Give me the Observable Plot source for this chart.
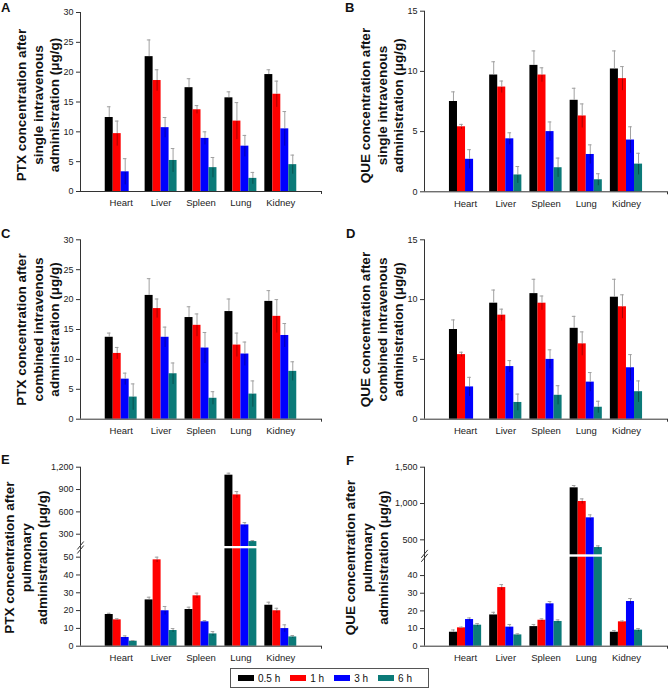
<!DOCTYPE html>
<html><head><meta charset="utf-8">
<script src="https://cdn.jsdelivr.net/npm/d3@7"></script>
<script src="https://cdn.jsdelivr.net/npm/@observablehq/plot@0.6"></script>
<style>
body{margin:0;background:#fff;}
#fig{position:relative;width:668px;height:688px;font-family:"Liberation Sans",Arial,sans-serif;color:#111;overflow:hidden;}
.panel{position:absolute;}
.letter{position:absolute;font-weight:bold;font-size:13px;line-height:15px;}
#legend{position:absolute;left:230px;top:668px;width:190px;height:18px;border:1px solid #555;box-sizing:content-box;display:flex;align-items:center;padding-left:7px;font-size:10px;}
#legend .item{display:flex;align-items:center;margin-right:10px;}
#legend .sw{width:16px;height:6px;margin-right:4px;}
</style></head><body><div id="fig"></div>
<script>
const organs = ["Heart", "Liver", "Spleen", "Lung", "Kidney"];
const times = ["0.5 h", "1 h", "3 h", "6 h"];
const colors = ["#000000", "#ff0000", "#0000ff", "#0b7a78"];

// A: PTX after single intravenous administration (μg/g)
const ptxSingle   = [[12.4, 9.7, 3.3, 0], [22.6, 18.6, 10.7, 5.2], [17.4, 13.7, 8.9, 4.0], [15.7, 11.8, 7.6, 2.2], [19.6, 16.3, 10.5, 4.5]];
const ptxSingleSD = [[1.8, 2.1, 2.2, 0], [2.8, 1.8, 1.7, 2.0], [1.5, 0.7, 1.1, 1.7], [1.0, 3.1, 1.8, 1.0], [0.8, 2.2, 2.9, 1.6]];
// B: QUE after single intravenous administration
const queSingle   = [[7.5, 5.4, 2.7, 0], [9.7, 8.7, 4.4, 1.4], [10.5, 9.7, 5.0, 2.0], [7.6, 6.3, 3.1, 1.0], [10.2, 9.4, 4.3, 2.3]];
const queSingleSD = [[0.8, 0.2, 0.8, 0], [1.1, 0.5, 0.5, 0.7], [1.2, 0.6, 0.8, 0.8], [1.0, 1.0, 0.8, 0.5], [1.5, 1.0, 1.1, 0.9]];
// C: PTX after combined intravenous administration
const ptxCombined   = [[13.7, 11.0, 6.7, 3.7], [20.7, 18.5, 13.7, 7.6], [17.0, 15.7, 11.9, 3.5], [18.0, 12.4, 10.9, 4.2], [19.7, 17.2, 14.0, 8.0]];
const ptxCombinedSD = [[0.7, 1.0, 1.0, 2.2], [2.8, 1.6, 1.7, 1.8], [1.8, 1.9, 2.6, 1.1], [2.1, 2.0, 2.0, 2.2], [1.8, 2.8, 2.0, 1.6]];
// D: QUE after combined intravenous administration
const queCombined   = [[7.5, 5.4, 2.7, 0], [9.7, 8.7, 4.4, 1.4], [10.5, 9.7, 5.0, 2.0], [7.6, 6.3, 3.1, 1.0], [10.2, 9.4, 4.3, 2.3]];
const queCombinedSD = [[0.8, 0.2, 0.8, 0], [1.1, 0.5, 0.5, 0.7], [1.2, 0.6, 0.8, 0.8], [1.0, 1.0, 0.8, 0.5], [1.5, 1.0, 1.1, 0.9]];
// E: PTX after pulmonary administration
const ptxPulmonary   = [[17.8, 14.8, 4.9, 2.8], [26.0, 48.5, 19.9, 8.8], [20.6, 28.3, 13.7, 6.9], [1093, 828, 425, 201], [23.0, 19.9, 9.9, 5.2]];
const ptxPulmonarySD = [[0.7, 0.6, 0.9, 0.4], [1.5, 1.5, 2.4, 1.1], [1.3, 1.5, 0.7, 1.3], [27, 45, 31, 14], [1.7, 1.4, 2.1, 0.8]];
// F: QUE after pulmonary administration
const quePulmonary   = [[7.9, 10.4, 15.1, 11.9], [17.7, 33.2, 10.8, 6.4], [11.1, 14.7, 24.0, 14.0], [1216, 1028, 803, 394], [7.9, 13.8, 25.3, 9.1]];
const quePulmonarySD = [[1.3, 0.4, 0.9, 0.9], [1.5, 1.7, 1.5, 0.6], [1.2, 0.8, 1.3, 0.9], [32, 36, 41, 23], [1.0, 0.5, 1.7, 0.9]];

const ticks30 = [0, 5, 10, 15, 20, 25, 30];
const ticks15 = [0, 5, 10, 15];
const ticksE = [0, 10, 20, 30, 40, 50, 300, 600, 900, 1200];
const ticksF = [0, 10, 20, 30, 40, 500, 1000, 1500];

const xMin = -1.02, xMax = 5.02;
const FONT = '"Liberation Sans", Arial, sans-serif';

function rows(values, sds) {
  const out = [];
  organs.forEach((o, i) => times.forEach((t, j) => out.push({organ: o, time: t, gi: i, ti: j, v: values[i][j], sd: sds[i][j]})));
  return out.filter(d => d.v > 0);
}

function panel(o) {
  const data = rows(o.values, o.sds);
  const x1 = d => d.gi - 0.4 + 0.2 * d.ti;
  const x2 = d => d.gi - 0.2 + 0.2 * d.ti;
  const xc = d => d.gi - 0.3 + 0.2 * d.ti;
  const yTop = o.yDomain[o.yDomain.length - 1];
  const marks = [
    Plot.rect(data, {x1, x2, y1: 0, y2: "v", fill: "time"}),
  ];
  if (o.brk) marks.push(Plot.rect([o.brk], {x1: xMin + 0.02, x2: xMax, y1: d => d[0], y2: d => d[1], fill: "white"}));
  marks.push(
    Plot.ruleX(data, {x: xc, y1: d => d.v - d.sd, y2: "v", stroke: "#000", strokeOpacity: 0.35}),
    Plot.ruleX(data, {x: xc, y1: "v", y2: d => d.v + d.sd, stroke: "#a0a0a0"}),
    Plot.ruleY(data, {y: d => d.v + d.sd, x1: d => xc(d) - 0.045, x2: d => xc(d) + 0.045, stroke: "#a0a0a0"}),
    Plot.ruleY([0], {x1: xMin, x2: xMax, stroke: "#333"}),
    Plot.ruleX([xMin], {y1: 0, y2: yTop, stroke: "#333"}),
    Plot.ruleX([xMax], {y1: 0, y2: -o.down, stroke: "#333"}),
    Plot.axisY({ticks: o.ticks, tickFormat: o.fmt || (d => d), tickSize: 4, tickPadding: 3, fontSize: 9, label: null, stroke: "#333", fill: "#222"}),
    Plot.axisX({ticks: [0, 1, 2, 3, 4], tickFormat: i => organs[i], tickSize: 0, tickPadding: 8, fontSize: 9.5, label: null, fill: "#222"}),
    Plot.text([o.title], {text: d => d, frameAnchor: "left", rotate: -90, dx: o.dx, dy: o.dy, fontSize: 13.5, fontWeight: "bold", lineAnchor: "middle", textAnchor: "middle", lineHeight: 1.2, fill: "#111"})
  );
  if (o.brk) {
    marks.push(
      Plot.link([0], {x1: xMin - 0.08, x2: xMin + 0.08, y1: o.brk[0] - o.slash, y2: o.brk[1] + o.slashUp, dy: 2, stroke: "#333"}),
      Plot.link([0], {x1: xMin - 0.08, x2: xMin + 0.08, y1: o.brk[0] - o.slash, y2: o.brk[1] + o.slashUp, dy: -2, stroke: "#333"})
    );
  }
  const yOpt = {type: "linear", domain: o.yDomain};
  if (o.yRange) yOpt.range = o.yRange;
  const chart = Plot.plot({
    width: 334, height: o.height,
    marginLeft: o.ml, marginRight: o.mr, marginTop: o.mt, marginBottom: o.mb,
    x: {domain: [xMin, xMax]},
    y: yOpt,
    color: {domain: times, range: colors},
    style: {fontFamily: FONT, fontSize: "9px", background: "transparent", overflow: "visible", color: "#222"},
    marks
  });
  const wrap = document.createElement("div");
  wrap.className = "panel";
  wrap.style.left = o.left + "px";
  wrap.style.top = o.top + "px";
  wrap.appendChild(chart);
  document.getElementById("fig").appendChild(wrap);
}

const t1 = "PTX concentration after\nsingle intravenous\nadministration (μg/g)";
const t2 = "QUE concentration after\nsingle intravenous\nadministration (μg/g)";
const t3 = "PTX concentration after\ncombined intravenous\nadministration (μg/g)";
const t4 = "QUE concentration after\ncombined intravenous\nadministration (μg/g)";
const t5 = "PTX concentration after\npulmonary\nadministration (μg/g)";
const t6 = "QUE concentration after\npulmonary\nadministration (μg/g)";
const comma = d3.format(",");

panel({values: ptxSingle, sds: ptxSingleSD, left: 0, top: 0, height: 215, ml: 80, mr: 13, mt: 12, mb: 24, yDomain: [0, 30], ticks: ticks30, down: 0.5, title: t1, dx: -43, dy: 3});
panel({values: queSingle, sds: queSingleSD, left: 334, top: 0, height: 215, ml: 90, mr: 1, mt: 10.7, mb: 23.7, yDomain: [0, 15], ticks: ticks15, down: 0.25, title: t2, dx: -43, dy: 4});
panel({values: ptxCombined, sds: ptxCombinedSD, left: 0, top: 215, height: 222, ml: 80, mr: 13, mt: 24.3, mb: 18.3, yDomain: [0, 30], ticks: ticks30, down: 0.5, title: t3, dx: -43, dy: 0});
panel({values: queCombined, sds: queCombinedSD, left: 334, top: 215, height: 222, ml: 90, mr: 1, mt: 24.3, mb: 18.3, yDomain: [0, 15], ticks: ticks15, down: 0.25, title: t4, dx: -43, dy: 0});
panel({values: ptxPulmonary, sds: ptxPulmonarySD, left: 0, top: 437, height: 228, ml: 80, mr: 13, mt: 29.7, mb: 19.3,
  yDomain: [0, 54.7, 135, 1200], yRange: [208.7, 111.3, 109, 29.7], ticks: ticksE, fmt: comma, down: 1.7,
  brk: [54.7, 135], slash: 1.5, slashUp: 40, title: t5, dx: -55, dy: 1});
panel({values: quePulmonary, sds: quePulmonarySD, left: 334, top: 437, height: 228, ml: 90, mr: 1, mt: 29.7, mb: 19.3,
  yDomain: [0, 50.4, 294, 1500], yRange: [208.7, 119.7, 117.3, 29.7], ticks: ticksF, fmt: comma, down: 1.7,
  brk: [50.4, 294], slash: 1.5, slashUp: 40, title: t6, dx: -58, dy: 1});

// panel letters
const fig = document.getElementById("fig");
[["A", 1, 0], ["B", 345, 0], ["C", 1, 226], ["D", 346, 226], ["E", 1, 452], ["F", 346, 453]].forEach(([t, l, tp]) => {
  const d = document.createElement("div");
  d.className = "letter"; d.textContent = t; d.style.left = l + "px"; d.style.top = tp + "px";
  fig.appendChild(d);
});

// legend
const lg = document.createElement("div");
lg.id = "legend";
times.forEach((t, i) => {
  const it = document.createElement("div"); it.className = "item";
  const sw = document.createElement("div"); sw.className = "sw"; sw.style.background = colors[i];
  const tx = document.createElement("span"); tx.textContent = t;
  it.appendChild(sw); it.appendChild(tx); lg.appendChild(it);
});
fig.appendChild(lg);
</script>
</body></html>
